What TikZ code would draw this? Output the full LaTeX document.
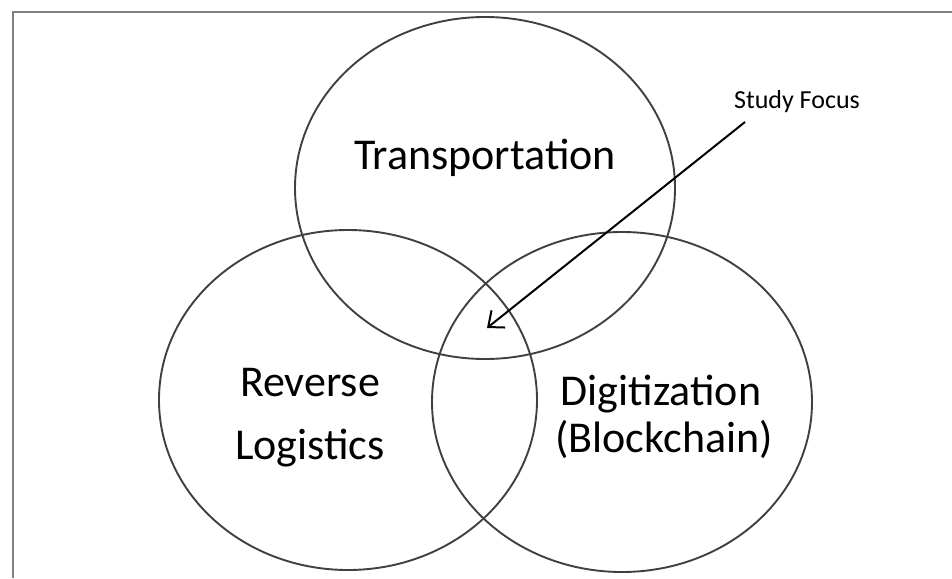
\documentclass[tikz,border=0pt]{standalone}
\usepackage{fontspec}
\setmainfont{Carlito}
\usetikzlibrary{arrows.meta}
\begin{document}
\begin{tikzpicture}[x=1pt,y=-1pt,
  frameline/.style={draw=black!50,line width=1.8pt},
  setcircle/.style={draw=black!75,line width=1.9pt},
  biglabel/.style={font=\fontsize{44}{50}\selectfont,anchor=base,inner sep=0pt},
  smalllabel/.style={font=\fontsize{26}{30}\selectfont,anchor=base,inner sep=0pt},
  pointer/.style={draw=black,line width=2pt,-{Straight Barb[length=13pt,width=22pt,line width=2pt]}}]
\useasboundingbox (0,0) rectangle (952,578);
\draw[frameline] (13,578) -- (13,12) -- (952,12);
% sets
\draw[setcircle] (485,188) ellipse [x radius=190, y radius=171];
\draw[setcircle] (348,400) ellipse [x radius=189, y radius=170];
\draw[setcircle] (622,402) ellipse [x radius=190, y radius=170];
% labels
\node[biglabel] (trans) at (485,169) {Transportation};
\node[biglabel] (rev) at (310,396) {Reverse};
\node[biglabel] (logi) at (310,459) {Logistics};
\node[biglabel] (digi) at (661,405) {Digitization};
\node[biglabel] (block) at (664,452) {(Blockchain)};
\node[smalllabel] (focus) at (797,108) {Study Focus};
% pointer
\coordinate (focusstart) at (745,122);
\coordinate (focuspt) at (487,328);
\draw[pointer] (focusstart) -- (focuspt);
\end{tikzpicture}
\end{document}
